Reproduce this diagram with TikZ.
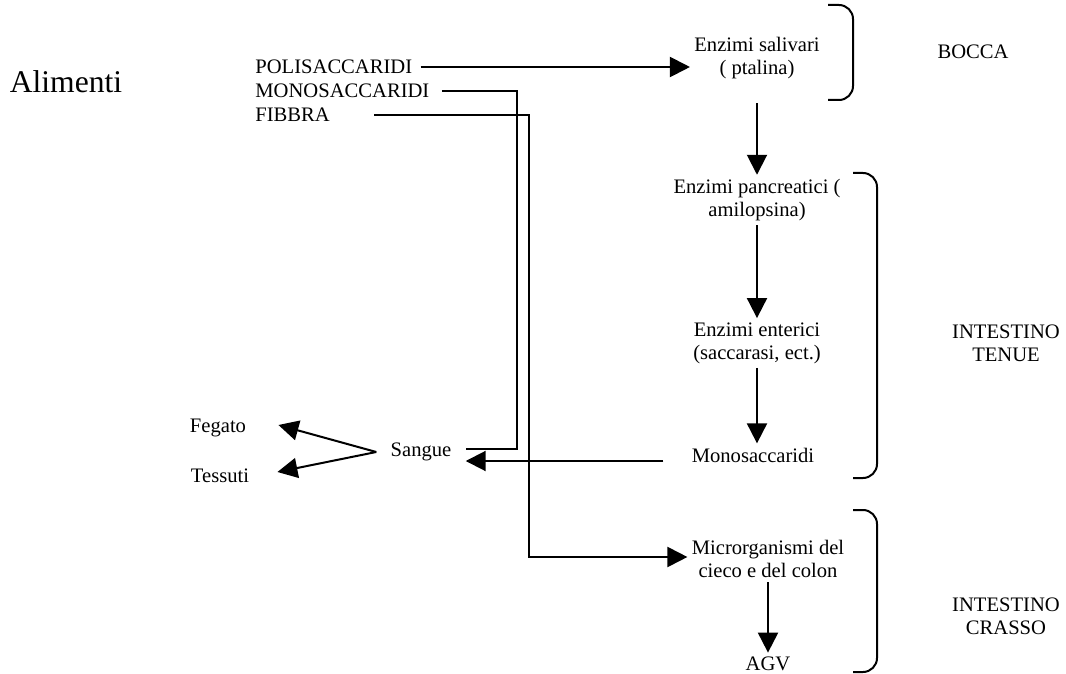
\documentclass[tikz,border=0pt]{standalone}
\usepackage{fontspec}
\setmainfont{Liberation Serif}
\usetikzlibrary{arrows.meta}
\tikzset{
  txt/.style={font=\fontsize{10.3}{11.5}\selectfont, inner sep=2pt, align=center},
  arr/.style={line width=1pt, -{Triangle[length=10pt,width=10pt]}},
  brace/.style={line width=1pt, rounded corners=7pt}
}

\begin{document}
\begin{tikzpicture}[x=0.5pt,y=-0.5pt]
\useasboundingbox (0,0) rectangle (1066,674);
\node[font=\fontsize{15.8}{18}\selectfont] (alim) at (66,82) {Alimenti};
\node[txt,anchor=west] (poli) at (251,67) {POLISACCARIDI};
\node[txt,anchor=west] (mono) at (251,91) {MONOSACCARIDI};
\node[txt,anchor=west] (fib) at (251,115) {FIBBRA};
\node[txt] (saliv) at (757,58) {Enzimi salivari\\( ptalina)};
\node[txt] (pancr) at (757,200) {Enzimi pancreatici (\\amilopsina)};
\node[txt] (enter) at (757,343) {Enzimi enterici\\(saccarasi, ect.)};
\node[txt] (monos) at (753,455) {Monosaccaridi};
\node[txt] (micro) at (768,559) {Microrganismi del\\cieco e del colon};
\node[txt] (agv) at (768,664) {AGV};
\node[txt,inner sep=7pt] (sangue) at (421,452) {Sangue};
\node[txt] (fegato) at (218,428) {Fegato};
\node[txt] (tess) at (220,476) {Tessuti};
\node[txt] (bocca) at (973,52) {BOCCA};
\node[txt] (tenue) at (1006,343) {INTESTINO\\TENUE};
\node[txt] (crasso) at (1006,616) {INTESTINO\\CRASSO};

\coordinate (mcorner) at (517,449);
\coordinate (fcorner) at (529,557);

\draw[arr] ([xshift=2pt]poli.east) -- (saliv.west |- poli.east);
\draw[line width=1pt] ([xshift=4pt]mono.east) -| (mcorner) -- (sangue.east |- mcorner);
\draw[arr] ([xshift=20pt]fib.east) -| (fcorner) -- (micro.west |- fcorner);
\draw[arr] ([xshift=-12pt,yshift=-3pt]monos.west) -- ([yshift=-4.5pt]sangue.east);
\draw[arr] (sangue.west) -- ([xshift=14pt,yshift=1.5pt]fegato.east);
\draw[arr] (sangue.west) -- ([xshift=12pt,yshift=2pt]tess.east);
\draw[arr] ([yshift=-10pt]saliv.south) -- (pancr.north);
\draw[arr] (pancr.south) -- (enter.north);
\draw[arr] (enter.south) -- (enter.south |- monos.north);
\draw[arr] (micro.south) -- (agv.north);

\draw[brace] (828,5) -| (853,52) |- (828,100);
\draw[brace] (853,173) -| (877,325) |- (853,478);
\draw[brace] (853,510) -| (877,590) |- (853,672);
\end{tikzpicture}
\end{document}
